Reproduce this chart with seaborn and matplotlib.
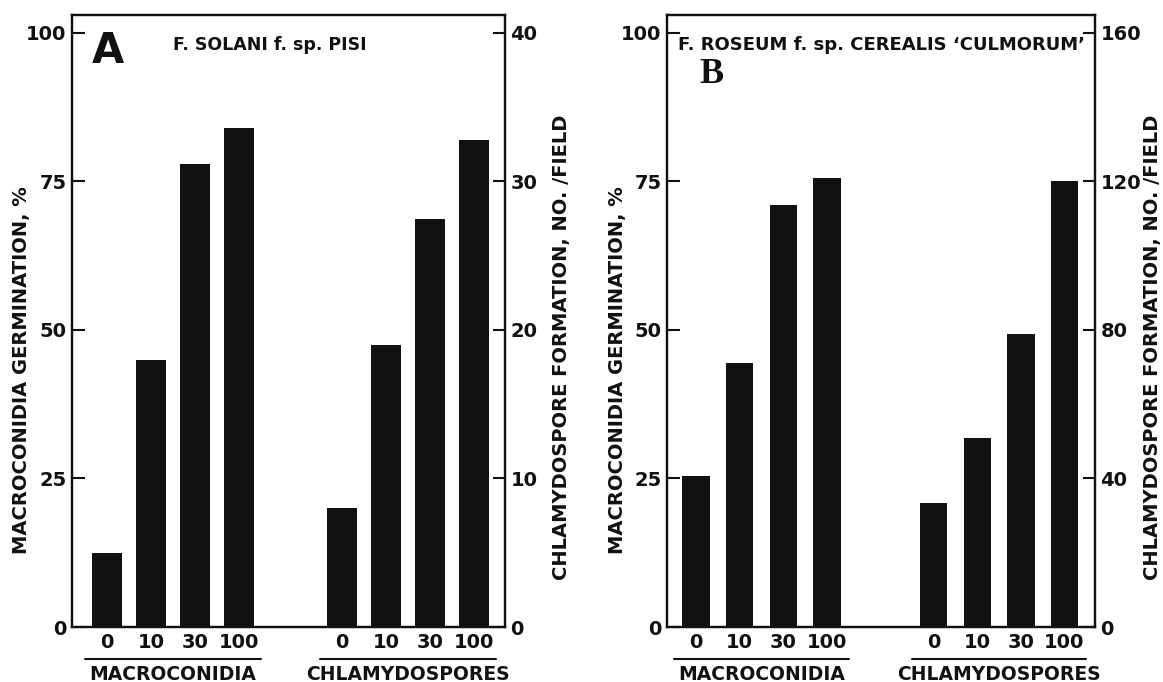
import numpy as np
import pandas as pd
import matplotlib
matplotlib.use("Agg")
import matplotlib.pyplot as plt
import seaborn as sns

# ---------------- data ----------------
concentrations = ["0", "10", "30", "100"]
a_macro = [12.5, 45.0, 78.0, 84.0]        # macroconidia germination, %
a_chlamy = [8.0, 19.0, 27.5, 32.8]        # chlamydospores / field
b_macro = [25.5, 44.5, 71.0, 75.5]
b_chlamy = [33.5, 51.0, 79.0, 120.0]

left_ticks = [0, 25, 50, 75, 100]
a_right_ticks = [0, 10, 20, 30, 40]
b_right_ticks = [0, 40, 80, 120, 160]

titles = ["F. SOLANI f. sp. PISI", "F. ROSEUM f. sp. CEREALIS \u2018CULMORUM\u2019"]
letters = ["A", "B"]
group_labels = ["MACROCONIDIA", "CHLAMYDOSPORES"]
left_label = "MACROCONIDIA GERMINATION, %"
right_label = "CHLAMYDOSPORE FORMATION, NO. /FIELD"

# ---------------- style ----------------
sns.set_theme(style="ticks")
plt.rcParams["font.family"] = ["DejaVu Sans"]
plt.rcParams["font.weight"] = "bold"
INK = "#111111"

fig = plt.figure(figsize=(11.63, 6.82), dpi=100)

panels = [
    dict(rect=[0.0619, 0.0806, 0.3723, 0.8974], macro=a_macro, chlamy=a_chlamy,
         rticks=a_right_ticks, gap=5.34, xlim=(-0.8, 9.05), width=0.68,
         title=titles[0], title_x=0.457, letter=letters[0], letter_xy=(0.045, 0.975),
         letter_size=30, letter_family="DejaVu Sans",
         lpos=(-0.095, 0.42), rpos=(1.108, 0.457)),
    dict(rect=[0.5735, 0.0806, 0.3680, 0.8974], macro=b_macro, chlamy=b_chlamy,
         rticks=b_right_ticks, gap=5.45, xlim=(-0.67, 9.15), width=0.63,
         title=titles[1], title_x=0.502, letter=letters[1], letter_xy=(0.075, 0.93),
         letter_size=26, letter_family="Liberation Serif",
         lpos=(-0.093, 0.42), rpos=(1.112, 0.457)),
]

for p in panels:
    ax = fig.add_axes(p["rect"])
    ax2 = ax.twinx()

    mpos = np.arange(len(concentrations), dtype=float)
    cpos = p["gap"] + np.arange(len(concentrations), dtype=float)

    dm = pd.DataFrame({"pos": mpos, "value": p["macro"]})
    dc = pd.DataFrame({"pos": cpos, "value": p["chlamy"]})

    sns.barplot(data=dm, x="pos", y="value", native_scale=True, width=p["width"],
                color=INK, saturation=1, errorbar=None, linewidth=0, ax=ax)
    sns.barplot(data=dc, x="pos", y="value", native_scale=True, width=p["width"],
                color=INK, saturation=1, errorbar=None, linewidth=0, ax=ax2)

    top_l = left_ticks[-1] * 1.03
    top_r = p["rticks"][-1] * 1.03
    ax.set_ylim(0, top_l)
    ax2.set_ylim(0, top_r)
    ax.set_xlim(*p["xlim"])

    ax.set_yticks(left_ticks)
    ax.set_yticklabels([str(t) for t in left_ticks])
    ax2.set_yticks(p["rticks"])
    ax2.set_yticklabels([str(t) for t in p["rticks"]])

    ax.set_xticks(np.concatenate([mpos, cpos]))
    ax.set_xticklabels(concentrations + concentrations)

    for a in (ax, ax2):
        for s in a.spines.values():
            s.set_visible(True)
            s.set_linewidth(1.6)
            s.set_color(INK)
    ax.tick_params(axis="y", direction="in", length=9, width=1.5, pad=4,
                   labelsize=14, colors=INK)
    ax2.tick_params(axis="y", direction="in", length=9, width=1.5, pad=4,
                    labelsize=14, colors=INK)
    ax.tick_params(axis="x", length=0, pad=4, labelsize=14, colors=INK)
    for lab in ax.get_xticklabels() + ax.get_yticklabels() + ax2.get_yticklabels():
        lab.set_fontweight("bold")

    ax.set_xlabel("")
    ax2.set_xlabel("")
    ax.set_ylabel(left_label, fontsize=14, fontweight="bold", color=INK)
    ax2.set_ylabel(right_label, fontsize=14, fontweight="bold", color=INK)
    ax.yaxis.set_label_coords(*p["lpos"])
    ax2.yaxis.set_label_coords(*p["rpos"])

    # group underline and label
    tr = ax.get_xaxis_transform()
    for pos, name in ((mpos, group_labels[0]), (cpos, group_labels[1])):
        ax.plot([pos[0] - 0.5, pos[-1] + 0.5], [-0.053, -0.053], transform=tr,
                color=INK, lw=1.5, clip_on=False)
        ax.text(pos.mean(), -0.077, name, transform=tr, ha="center", va="center",
                fontsize=13.5, fontweight="bold", color=INK)

    ax.text(p["title_x"], 0.951, p["title"], transform=ax.transAxes, ha="center",
            va="center", fontsize=12.5 if p["letter"] == "A" else 13,
            fontweight="bold", color=INK)
    ax.text(p["letter_xy"][0], p["letter_xy"][1], p["letter"], transform=ax.transAxes,
            ha="left", va="top", fontsize=p["letter_size"], fontweight="bold",
            family=p["letter_family"], color=INK)

fig.savefig("out.png", dpi=100)
